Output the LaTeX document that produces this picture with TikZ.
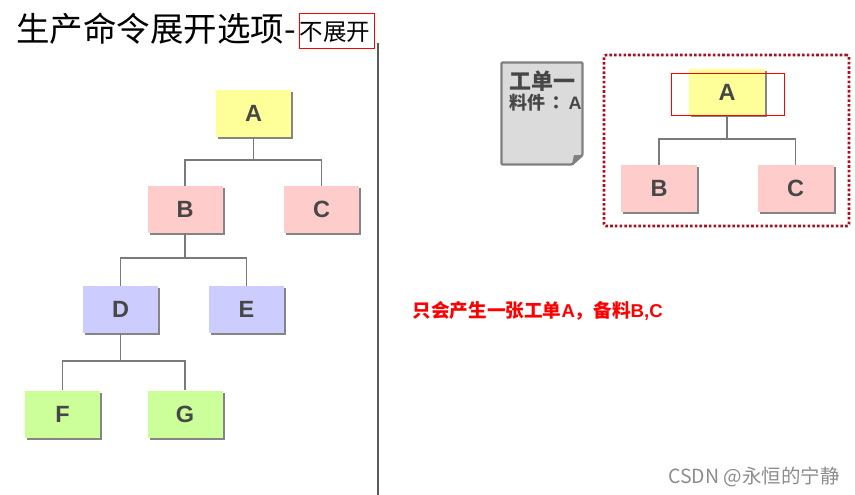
\documentclass[tikz,border=0pt]{standalone}
\usepackage{fontspec}
\setmainfont{Liberation Sans}
\newfontfamily\cjk{Noto Sans CJK SC}
\newfontfamily\cjktc{Noto Sans CJK TC}
\usetikzlibrary{shadows,calc}
\definecolor{ink}{HTML}{474747}
\definecolor{yel}{HTML}{FFFF99}
\definecolor{pnk}{HTML}{FFCCCC}
\definecolor{blu}{HTML}{CCCCFF}
\definecolor{grn}{HTML}{CCFF99}
\definecolor{lin}{HTML}{7A7A7A}
\definecolor{wine}{HTML}{A81020}
\tikzset{
  x=1pt,y=-1pt,
  item/.style={minimum width=75pt,minimum height=47pt,inner sep=0pt,text=ink,
    font=\fontsize{23.5}{25}\selectfont\bfseries,
    drop shadow={shadow xshift=2.2pt,shadow yshift=-2.2pt,fill=black!48,opacity=1}},
  link/.style={draw=lin,line width=1.7pt},
  redbox/.style={draw=red,line width=0.9pt},
}
\begin{document}
\begin{tikzpicture}
\useasboundingbox (0,0) rectangle (855,495);
% title
\node[anchor=base west,inner sep=0pt,font=\fontsize{33.5}{36}\selectfont\cjk] (title) at (16,42) {生产命令展开选项-};
\node[anchor=base,inner sep=0pt,font=\fontsize{23.5}{26}\selectfont\cjk] (sub) at (335,41) {不展开};
\node[redbox,minimum width=75pt,minimum height=35pt,inner sep=0pt] (subbox) at (336.5,30.5) {};
% divider
\coordinate (d1) at (378,43);
\coordinate (d2) at (378,495);
\draw[draw=black!65,line width=1.7pt] (d1) -- (d2);
% left tree
\node[item,fill=yel] (A) at (253.5,113.5) {A};
\node[item,fill=pnk] (B) at (185,209.5) {B};
\node[item,fill=pnk] (C) at (321.5,209.5) {C};
\node[item,fill=blu] (D) at (120.5,309.5) {D};
\node[item,fill=blu] (E) at (246.5,309.5) {E};
\node[item,fill=grn] (F) at (62.5,414) {F};
\node[item,fill=grn] (G) at (185,414) {G};
\draw[link] (A.south) -- ($(A.south)+(0,23)$) coordinate (a1) -| (B.north);
\draw[link] (a1) -| (C.north);
\draw[link] (B.south) -- ($(B.south)+(0,25)$) coordinate (b1) -| (D.north);
\draw[link] (b1) -| (E.north);
\draw[link] (D.south) -- ($(D.south)+(0,28)$) coordinate (c1) -| (F.north);
\draw[link] (c1) -| (G.north);
% work order sheet
\coordinate (s1) at (501.5,62.5);
\coordinate (s2) at (582.5,62.5);
\coordinate (s3) at (582.5,155);
\coordinate (s4) at (572,164.5);
\coordinate (s5) at (501.5,164.5);
\coordinate (s6) at (574,155);
\draw[draw=black!50,line width=2.4pt,fill=black!14,rounded corners=1pt] (s1) -- (s2) -- (s3) -- (s4) -- (s5) -- cycle;
\fill[black!50] (s3) -- (s4) -- (s6) -- cycle;
\node[anchor=base west,inner sep=0pt,text=ink,font=\fontsize{22}{24}\selectfont\cjk\bfseries] (t1) at (509.5,89) {工单一};
\node[anchor=base west,inner sep=0pt,text=ink,font=\fontsize{18}{20}\selectfont\cjk\bfseries] (t2) at (509.5,110) {料件\hspace{2pt}{\cjktc\bfseries：}\hspace{3pt}\fontspec{Liberation Sans}A};
% right frame
\node[draw=wine,line width=2.6pt,dash pattern=on 2.6pt off 2.1pt,rounded corners=2pt,minimum width=245pt,minimum height=171pt,inner sep=0pt] (frame) at (726.5,140.5) {};
\node[item,fill=yel,minimum width=76pt,minimum height=46pt] (A2) at (727,92) {A};
\node[item,fill=pnk,minimum width=76pt] (B2) at (659,188.5) {B};
\node[item,fill=pnk,minimum width=76pt] (C2) at (795.5,188.5) {C};
\draw[link] (A2.south) -- ($(A2.south)+(0,24)$) coordinate (a2) -| (B2.north);
\draw[link] (a2) -| (C2.north);
\node[redbox,minimum width=113pt,minimum height=42pt,inner sep=0pt] (abox) at (727.5,94) {};
% note
\node[anchor=base west,inner sep=0pt,text=red,font=\fontsize{18.6}{20}\selectfont\cjk\bfseries] (note) at (412.5,317) {只会产生一张工单\fontspec{Liberation Sans}A\cjk，备料\fontspec{Liberation Sans}B,C};
% watermark
\node[anchor=base east,inner sep=0pt,text=black!45,font=\fontsize{19.5}{21}\selectfont\cjk] (wm) at (840,483) {CSDN @永恒的宁静};
\end{tikzpicture}
\end{document}
